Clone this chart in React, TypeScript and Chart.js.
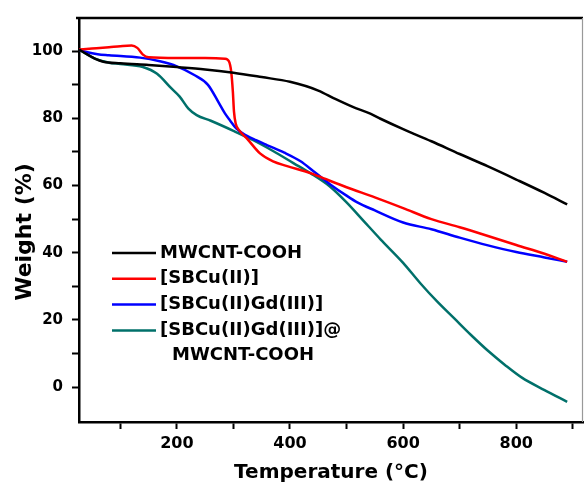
import React, { useEffect, useRef } from "react";
import { Chart, registerables } from "chart.js";

Chart.register(...registerables);

const FONT = "'DejaVu Sans', 'Liberation Sans', sans-serif";

const seriesLabels = [
  "MWCNT-COOH",
  "[SBCu(II)]",
  "[SBCu(II)Gd(III)]",
  "[SBCu(II)Gd(III)]@\nMWCNT-COOH",
];
const seriesColors = ["#000000", "#ff0000", "#0000ff", "#00706a"];

const tempBlack = [27, 40, 55, 70, 100, 150, 200, 250, 300, 350, 400, 450, 480, 510, 542, 560, 600, 650, 700, 750, 800, 850, 890];
const weightBlack = [100.5, 99.2, 97.8, 96.9, 96.4, 95.9, 95.3, 94.6, 93.6, 92.3, 90.9, 88.3, 85.8, 83.5, 81.4, 79.9, 76.8, 73.2, 69.4, 65.7, 61.8, 57.8, 54.4];

const tempRed = [27, 50, 80, 100, 120, 130, 140, 150, 200, 250, 285, 292, 296, 299, 301, 304, 310, 324, 347, 370, 395, 436, 450, 500, 550, 600, 650, 700, 750, 800, 850, 890];
const weightRed = [100.5, 100.8, 101.2, 101.5, 101.7, 101.0, 99.0, 98.2, 98.0, 98.0, 97.8, 97.0, 94.0, 88.0, 82.0, 78.5, 76.5, 74.0, 69.6, 67.2, 65.8, 63.7, 62.8, 59.5, 56.5, 53.3, 50.0, 47.6, 45.0, 42.3, 39.7, 37.3];

const tempBlue = [27, 40, 60, 80, 135, 170, 200, 230, 255, 273, 285, 294, 305, 317, 340, 360, 390, 418, 445, 470, 500, 519, 550, 600, 650, 700, 750, 800, 850, 890];
const weightBlue = [100.5, 99.8, 99.1, 98.8, 98.1, 97.0, 95.5, 93.0, 90.0, 85.0, 81.5, 79.4, 77.0, 75.5, 73.5, 72.0, 69.8, 67.3, 63.8, 60.5, 57.0, 55.0, 52.6, 49.0, 47.0, 44.5, 42.2, 40.2, 38.6, 37.3];

const tempTeal = [27, 40, 55, 70, 80, 100, 140, 165, 190, 205, 220, 235, 260, 300, 335, 370, 406, 436, 470, 500, 530, 560, 600, 630, 660, 690, 720, 750, 780, 810, 850, 890];
const weightTeal = [100.5, 99.2, 97.8, 97.0, 96.6, 96.2, 95.3, 93.3, 89.0, 86.5, 83.0, 81.0, 79.3, 76.3, 73.5, 70.3, 66.7, 63.7, 59.8, 55.0, 49.5, 44.0, 37.0, 31.0, 25.5, 20.5, 15.5, 10.8, 6.6, 2.8, -0.9, -4.4];

const xMajorTicks = [200, 400, 600, 800];
const xMinorTicks = [100, 300, 500, 700, 900];
const yMajorTicks = [0, 20, 40, 60, 80, 100];
const yMinorTicks = [10, 30, 50, 70, 90];

const xTitle = "Temperature (\u00B0C)";
const yTitle = "Weight (%)";

const toPoints = (xs: number[], ys: number[]) => xs.map((x, i) => ({ x, y: ys[i] }));

const legendPlugin = {
  id: "customLegendFrame",
  afterDraw(chart: any) {
    const { ctx, chartArea } = chart;
    const { left, top, right, bottom } = chartArea;
    ctx.save();
    // frame: top thick, right thin grey
    ctx.strokeStyle = "#000";
    ctx.lineWidth = 2.5;
    ctx.beginPath();
    ctx.moveTo(left - 3, top);
    ctx.lineTo(right, top);
    ctx.stroke();
    ctx.strokeStyle = "#999";
    ctx.lineWidth = 1.2;
    ctx.beginPath();
    ctx.moveTo(right - 0.5, top);
    ctx.lineTo(right - 0.5, bottom);
    ctx.stroke();

    // y-axis title
    ctx.save();
    ctx.translate(25, 232);
    ctx.rotate(-Math.PI / 2);
    ctx.font = `bold 22px ${FONT}`;
    ctx.fillStyle = "#000";
    ctx.textAlign = "center";
    ctx.textBaseline = "middle";
    ctx.fillText(yTitle, 0, 0);
    ctx.restore();

    // legend
    const lx0 = 112;
    const lx1 = 156;
    const tx = 160;
    let y = 253;
    const rowH = 25.8;
    const contH = 25;
    ctx.font = `bold 18px ${FONT}`;
    ctx.textBaseline = "middle";
    ctx.textAlign = "left";
    chart.data.datasets.forEach((ds: any) => {
      const lines = String(ds.label).split("\n");
      ctx.strokeStyle = ds.borderColor;
      ctx.lineWidth = 2.5;
      ctx.beginPath();
      ctx.moveTo(lx0, y);
      ctx.lineTo(lx1, y);
      ctx.stroke();
      ctx.fillStyle = "#000";
      lines.forEach((ln: string, i: number) => {
        ctx.fillText(ln, i === 0 ? tx : tx + 12, y + i * contH);
      });
      y += rowH + (lines.length - 1) * contH;
    });
    ctx.restore();
  },
};

export default function App() {
  const ref = useRef<HTMLCanvasElement | null>(null);
  useEffect(() => {
    if (!ref.current) return;
    const data = [
      toPoints(tempBlack, weightBlack),
      toPoints(tempRed, weightRed),
      toPoints(tempBlue, weightBlue),
      toPoints(tempTeal, weightTeal),
    ];
    const chart = new Chart(ref.current, {
      type: "line",
      data: {
        datasets: data.map((d, i) => ({
          label: seriesLabels[i],
          data: d,
          borderColor: seriesColors[i],
          backgroundColor: seriesColors[i],
          borderWidth: 2.5,
          pointRadius: 0,
          fill: false,
          cubicInterpolationMode: "monotone" as const,
        })),
      },
      options: {
        animation: false,
        responsive: false,
        devicePixelRatio: 1,
        layout: { padding: { left: 0, top: 13, right: 1, bottom: 0 } },
        plugins: { legend: { display: false }, tooltip: { enabled: false } },
        scales: {
          x: {
            type: "linear",
            min: 27,
            max: 918,
            afterFit: (s: any) => {
              s.height = 64;
            },
            afterBuildTicks: (s: any) => {
              s.ticks = [...xMajorTicks, ...xMinorTicks].sort((a, b) => a - b).map((v) => ({ value: v }));
            },
            border: { display: true, color: "#000", width: 2.5 },
            grid: {
              drawOnChartArea: false,
              drawTicks: true,
              tickLength: 7,
              tickColor: "#000",
              tickWidth: 2,
            },
            ticks: {
              autoSkip: false,
              maxRotation: 0,
              padding: 5,
              color: "#000",
              font: { family: FONT, size: 16, weight: "bold" },
              callback: (v: any) => (xMajorTicks.includes(Number(v)) ? String(v) : ""),
            },
            title: {
              display: true,
              text: xTitle,
              color: "#000",
              font: { family: FONT, size: 20, weight: "bold" },
              padding: { top: 0, bottom: 1 },
            },
          },
          y: {
            type: "linear",
            min: -10.4,
            max: 109.9,
            afterFit: (s: any) => {
              s.width = 79;
            },
            afterBuildTicks: (s: any) => {
              s.ticks = [...yMajorTicks, ...yMinorTicks].sort((a, b) => a - b).map((v) => ({ value: v }));
            },
            border: { display: true, color: "#000", width: 2.5 },
            grid: {
              drawOnChartArea: false,
              drawTicks: true,
              tickLength: 7,
              tickColor: "#000",
              tickWidth: 2,
            },
            ticks: {
              autoSkip: false,
              padding: 9,
              color: "#000",
              font: { family: FONT, size: 15, weight: "bold" },
              callback: (v: any) => (yMajorTicks.includes(Number(v)) ? String(v) : ""),
            },
            title: { display: false },
          },
        },
      },
      plugins: [legendPlugin],
    });
    return () => chart.destroy();
  }, []);
  return (
    <div style={{ position: "absolute", left: 0, top: 0, width: 584, height: 486, background: "#fff" }}>
      <canvas ref={ref} width={584} height={486} style={{ display: "block" }} />
    </div>
  );
}
